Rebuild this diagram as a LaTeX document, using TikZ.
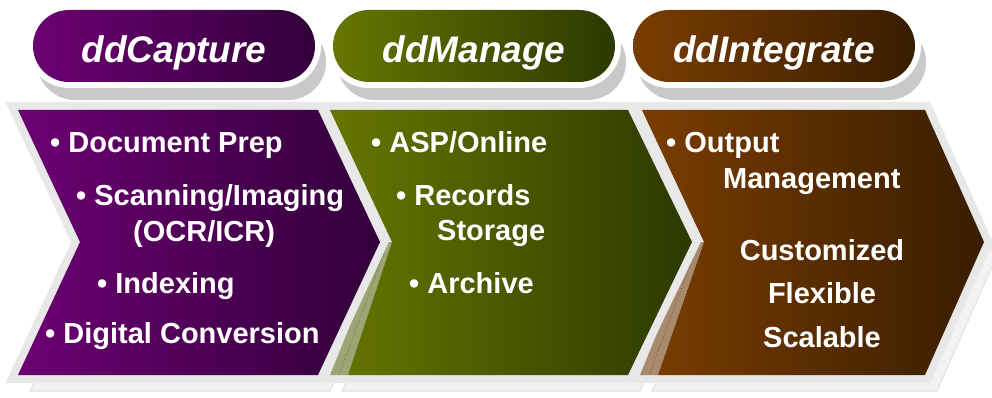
\documentclass[tikz,border=0pt]{standalone}
\usepackage{fontspec}
\setmainfont{Liberation Sans}
\usetikzlibrary{shapes.misc}
\definecolor{pA}{HTML}{6C0072}
\definecolor{pB}{HTML}{32003A}
\definecolor{gA}{HTML}{667600}
\definecolor{gB}{HTML}{2C3900}
\definecolor{bA}{HTML}{7A3D00}
\definecolor{bB}{HTML}{381D00}
\definecolor{bandgray}{HTML}{E8E8E8}
\definecolor{faintgray}{HTML}{F2F2F2}
\definecolor{faintline}{HTML}{E2E2E2}
\definecolor{pillshadow}{HTML}{C9C9C9}
\definecolor{gstrip}{HTML}{9EA574}
\definecolor{bstrip}{HTML}{A88B6E}
\begin{document}
\begin{tikzpicture}[x=1pt,y=-1pt,line join=miter,
  border/.style={fill=bandgray,draw=bandgray,line width=16pt},
  faint/.style={fill=faintgray,draw=faintline,line width=1pt},
  pillshape/.style={rounded rectangle,inner sep=0pt,minimum width=282pt,minimum height=72pt,shade,shading angle=90},
  pillring/.style={rounded rectangle,inner sep=0pt,minimum width=294pt,minimum height=84pt,fill=white},
  pillshade/.style={rounded rectangle,inner sep=0pt,minimum width=289pt,minimum height=76pt,fill=pillshadow},
  pilltext/.style={font=\fontsize{37}{40}\selectfont\bfseries\itshape,text=white,inner sep=0pt,anchor=base},
  itemtext/.style={font=\fontsize{29}{32}\selectfont\bfseries,text=white,inner sep=0pt,anchor=base west},
  centertext/.style={font=\fontsize{29}{32}\selectfont\bfseries,text=white,inner sep=0pt,anchor=base}]
\useasboundingbox (0,0) rectangle (992,398);
\fill[white] (0,0) rectangle (992,398);
% faint drop shadows of the chevrons
\begin{scope}[shift={(12,16)}]
\path[faint] (642,110) -- (925,110) -- (984,242) -- (925,375) -- (640,375) -- (704,242) -- cycle;
\path[faint] (330,110) -- (628,110) -- (692,242) -- (628,375) -- (330,375) -- (392,242) -- cycle;
\path[faint] (18,110) -- (318,110) -- (380,242) -- (318,375) -- (18,375) -- (80,242) -- cycle;
\end{scope}
% chevron 3 (brown)
\path[border] (642,110) -- (925,110) -- (984,242) -- (925,375) -- (640,375) -- (704,242) -- cycle;
\fill[bstrip] (694,242) -- (704,242) -- (658,375) -- (640,375) -- cycle;
\draw[bA!70!black,dotted,line width=0.6pt] (699,242) -- (649,375);
\shade[left color=bA,right color=bB] (642,110) -- (925,110) -- (984,242) -- (925,375) -- (658,375) -- (704,242) -- cycle;
% chevron 2 (green)
\path[border] (330,110) -- (628,110) -- (692,242) -- (628,375) -- (330,375) -- (392,242) -- cycle;
\fill[gstrip] (384,242) -- (392,242) -- (348,375) -- (330,375) -- cycle;
\draw[gA!70!black,dotted,line width=0.6pt] (388,242) -- (339,375);
\shade[left color=gA,right color=gB] (330,110) -- (628,110) -- (692,242) -- (628,375) -- (348,375) -- (392,242) -- cycle;
% chevron 1 (purple)
\path[border] (18,110) -- (318,110) -- (380,242) -- (318,375) -- (18,375) -- (80,242) -- cycle;
\shade[left color=pA,right color=pB] (18,110) -- (318,110) -- (380,242) -- (318,375) -- (18,375) -- (80,242) -- cycle;
% pills
\node (capShadow) [pillshade] at (181.5,62) {};
\node (manShadow) [pillshade] at (481.5,62) {};
\node (intShadow) [pillshade] at (781.5,62) {};
\node (capRing) [pillring] at (174,46) {};
\node (manRing) [pillring] at (474,46) {};
\node (intRing) [pillring] at (774,46) {};
\node (capPill) [pillshape,left color=pA,right color=pB] at (174,46) {};
\node (manPill) [pillshape,left color=gA,right color=gB] at (474,46) {};
\node (intPill) [pillshape,left color=bA,right color=bB] at (774,46) {};
\node (capText) [pilltext] at (174,63) {ddCapture};
\node (manText) [pilltext] at (474,63) {ddManage};
\node (intText) [pilltext] at (774,63) {ddIntegrate};
% purple items
\node (c1) [itemtext] at (50,153) {• Document Prep};
\node (c2) [itemtext] at (76,205) {• Scanning/Imaging};
\node (c3) [itemtext] at (133,241) {(OCR/ICR)};
\node (c4) [itemtext] at (97,293) {• Indexing};
\node (c5) [itemtext] at (45,343) {• Digital Conversion};
% green items
\node (m1) [itemtext] at (371,153) {• ASP/Online};
\node (m2) [itemtext] at (396,205) {• Records};
\node (m3) [itemtext] at (437,240) {Storage};
\node (m4) [itemtext] at (409,293) {• Archive};
% brown items
\node (i1) [itemtext] at (666,153) {• Output};
\node (i2) [itemtext] at (723,188) {Management};
\node (i3) [centertext] at (822,260) {Customized};
\node (i4) [centertext] at (822,303) {Flexible};
\node (i5) [centertext] at (822,347) {Scalable};
\end{tikzpicture}
\end{document}
